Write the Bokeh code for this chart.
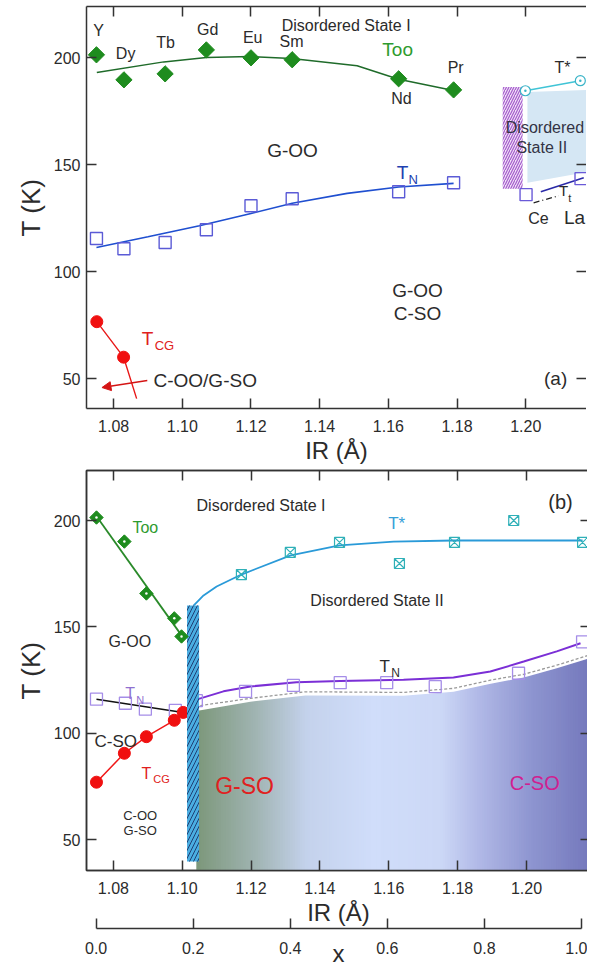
import numpy as np
from bokeh.plotting import figure
from bokeh.layouts import column
from bokeh.models import (Range1d, LinearAxis, FixedTicker, PrintfTickFormatter,
                          Arrow, NormalHead)
from bokeh.core.properties import value
from bokeh.embed import file_html
from bokeh.resources import INLINE

FONT = "Liberation Sans"
INK = "#2b2b2b"

# ---------------- panel (a): RMnO3 series vs ionic radius ----------------
elements = ["Y", "Dy", "Tb", "Gd", "Eu", "Sm", "Nd", "Pr"]
ir_a = [1.075, 1.083, 1.095, 1.107, 1.120, 1.132, 1.163, 1.179]
too_a = [201.4, 189.7, 192.5, 203.7, 200.0, 199.1, 190.2, 185.0]
tn_a = [115.5, 110.7, 113.6, 119.6, 130.8, 134.1, 137.4, 141.6]

too_fit_ir = [1.0751, 1.0946, 1.107, 1.1199, 1.1318, 1.1509, 1.163, 1.1793]
too_fit_t = [193.1, 198.1, 200.2, 200.6, 199.7, 196.3, 190.0, 184.6]
tn_fit_ir = [1.075, 1.09, 1.105, 1.12, 1.132, 1.148, 1.163, 1.179]
tn_fit_t = [111.3, 116.3, 121.5, 127.2, 132.0, 136.6, 139.6, 141.3]

tcg_a_ir = [1.0751, 1.0829]
tcg_a_t = [76.6, 60.0]
tcg_a_line_ir = [1.0751, 1.0829, 1.0867]
tcg_a_line_t = [76.6, 60.0, 40.6]

# Ce / La end members
ir_cela = [1.2001, 1.2161]
tn_cela = [136.0, 143.5]
tstar_cela_ir = [1.1999, 1.2159]
tstar_cela = [184.6, 189.3]
tt_ir = [1.2044, 1.2169]
tt_t = [137.4, 143.9]
tt_dash_ir = [1.2023, 1.2096]
tt_dash_t = [132.2, 135.5]

# ---------------- panel (b): Y(1-x)La(x) series ----------------
IR_Y, IR_LA = 1.075, 1.216          # x = 0 and x = 1 end points
too_b_ir = [1.0751, 1.0832, 1.0896, 1.0977, 1.0998]
too_b = [201.4, 190.1, 165.7, 154.0, 145.5]
too_b_line_ir = [1.0751, 1.0998]
too_b_line = [202.0, 146.0]

tcg_b_ir = [1.0751, 1.0832, 1.0896, 1.0977, 1.1003]
tcg_b = [77.0, 90.6, 98.4, 106.1, 109.8]

tn_b_ir = [1.0751, 1.0835, 1.0893, 1.098, 1.1041, 1.1184, 1.1323, 1.1459,
           1.1594, 1.1735, 1.1977, 1.2163]
tn_b = [116.0, 114.1, 111.3, 110.8, 115.3, 119.7, 122.5, 123.8, 123.8,
        121.9, 128.2, 143.0]
tn_left_ir = [1.0751, 1.0998]
tn_left = [116.0, 109.9]
tn_fit_b_ir = [1.1041, 1.112, 1.1198, 1.1332, 1.1459, 1.1643, 1.1788,
               1.1895, 1.1992, 1.2088, 1.2157]
tn_fit_b = [115.8, 119.7, 122.0, 124.0, 124.6, 125.2, 126.2, 129.0, 133.7,
            138.5, 142.3]

tstar_b_ir = [1.1172, 1.1314, 1.1457, 1.1631, 1.1791, 1.1963, 1.2163]
tstar_b = [174.6, 185.0, 189.7, 179.8, 189.7, 200.0, 189.7]
tstar_fit_ir = [1.1033, 1.1062, 1.110, 1.1172, 1.1315, 1.1457, 1.1614,
                1.1788, 1.2163]
tstar_fit = [160.0, 164.8, 169.0, 174.6, 183.6, 188.3, 190.1, 190.6, 190.6]

dash_ir = [1.1038, 1.1198, 1.1358, 1.1643, 1.1788, 1.1896, 1.1992, 1.2088,
           1.2187]
dash_t = [112.7, 116.4, 119.5, 119.2, 121.1, 125.0, 127.7, 132.0, 137.0]
so_edge_ir = [1.1041, 1.1198, 1.1358, 1.1643, 1.1788, 1.1896, 1.1992,
              1.2088, 1.2187]
so_edge_t = [110.5, 114.8, 117.8, 117.6, 119.5, 123.3, 126.2, 130.5, 135.5]

ir_ticks = [1.08, 1.10, 1.12, 1.14, 1.16, 1.18, 1.20]
t_ticks = [50, 100, 150, 200]
x_ticks = [0.0, 0.2, 0.4, 0.6, 0.8, 1.0]


def mirror_axis(ticks, line_color):
    # tick marks only, no labels
    return LinearAxis(ticker=FixedTicker(ticks=ticks), major_label_text_font_size="1px",
                      major_label_text_color=None, major_label_standoff=0,
                      major_tick_in=10, major_tick_out=0, minor_tick_line_color=None,
                      axis_line_color=line_color, axis_line_width=1.5,
                      major_tick_line_color="#333333", major_tick_line_width=1.5)


def style_axes(p, frame_line=True):
    for ax in p.xaxis + p.yaxis:
        ax.major_tick_in = 10
        ax.major_tick_out = 0
        ax.minor_tick_line_color = None
        ax.axis_line_color = "#333333"
        ax.axis_line_width = 1.5
        ax.major_tick_line_color = "#333333"
        ax.major_tick_line_width = 1.5
        ax.major_label_text_font = FONT
        ax.major_label_text_font_size = "16px"
        ax.major_label_text_color = INK
        ax.axis_label_text_font = FONT
        ax.axis_label_text_font_style = "normal"
        ax.axis_label_text_color = INK
    p.xaxis[0].ticker = FixedTicker(ticks=ir_ticks)
    p.xaxis[0].formatter = PrintfTickFormatter(format="%.2f")
    p.xaxis[0].axis_label = "IR (Å)"
    p.xaxis[0].axis_label_text_font_size = "24px"
    p.xaxis[0].major_label_standoff = 11
    p.xaxis[0].axis_label_standoff = 2
    p.yaxis[0].ticker = FixedTicker(ticks=t_ticks)
    p.yaxis[0].axis_label = "T (K)"
    p.yaxis[0].axis_label_text_font_size = "26px"
    p.yaxis[0].major_label_standoff = 6
    p.grid.visible = False
    p.add_layout(mirror_axis(ir_ticks, "#333333"), "above")
    p.add_layout(mirror_axis(t_ticks, "#333333" if frame_line else None), "right")


def put(p, x, y, s, size, color=INK, align="center"):
    p.text(x=[x], y=[y], text=[s], text_font=value(FONT), text_font_size=size,
           text_color=color, text_align=align, text_baseline="middle")


# ======================= panel (a) =======================
pa = figure(frame_width=500, frame_height=402, x_range=Range1d(1.0721, 1.2177),
            y_range=Range1d(36, 224), output_backend="svg", toolbar_location=None,
            min_border_left=86, min_border_right=0, min_border_top=6,
            min_border_bottom=0, outline_line_color=None)
style_axes(pa, frame_line=False)

# La-side inset: hatched boundary, disordered-state-II patch
pa.patch([1.2005, 1.2177, 1.2177, 1.2005], [184.0, 185.0, 146.5, 141.6],
         fill_color="#d5e7f4", line_color=None)
pa.quad(left=[1.1933], right=[1.1991], bottom=[138.8], top=[186.4],
        fill_color="#f1e2f8", line_color=None, hatch_pattern="/",
        hatch_color="#a45ccc", hatch_scale=5, hatch_weight=1.2)

pa.line(too_fit_ir, too_fit_t, line_color="#1f6b2a", line_width=1.5)
pa.scatter(ir_a, too_a, marker="square", angle=np.pi / 4, size=11.5,
           fill_color="#1e8c1e", line_color="#1e8c1e")
pa.line(tn_fit_ir, tn_fit_t, line_color="#1f4fd0", line_width=1.6)
pa.scatter(ir_a, tn_a, marker="square", size=12, fill_color=None,
           line_color="#5b5bd6", line_width=1.4)
pa.line(tcg_a_line_ir, tcg_a_line_t, line_color="#e81818", line_width=1.4)
pa.scatter(tcg_a_ir, tcg_a_t, marker="circle", size=12, fill_color="#f01010",
           line_color="#f01010")
pa.add_layout(Arrow(end=NormalHead(size=9, fill_color="#d41414", line_color="#d41414"),
                    x_start=1.0898, y_start=49.1, x_end=1.0766, y_end=45.8,
                    line_color="#d41414", line_width=1.4))

pa.line(tstar_cela_ir, tstar_cela, line_color="#40c4d6", line_width=1.6)
pa.scatter(tstar_cela_ir, tstar_cela, marker="circle_dot", size=10, fill_color="white",
           line_color="#3ab4c8", line_width=1.2)
pa.line(tt_ir, tt_t, line_color="#2a2aa8", line_width=1.6)
pa.line(tt_dash_ir, tt_dash_t, line_color="#222222", line_width=1.3, line_dash="6 3 1 3")
pa.scatter(ir_cela, tn_cela, marker="square", size=12, fill_color=None,
           line_color="#6a5ad8", line_width=1.4)

elem_pos = [(1.0756, 212.6), (1.0835, 201.9), (1.0951, 207.0), (1.1074, 213.1),
            (1.1205, 209.3), (1.1318, 207.5), (1.1638, 180.8), (1.1796, 195.3)]
for name, (ex, ey) in zip(elements, elem_pos):
    put(pa, ex, ey, name, "16px")
put(pa, 1.1477, 215.0, "Disordered State I", "16px")
put(pa, 1.1627, 203.7, "Too", "19px", color="#2e9b2e")
put(pa, 1.1321, 156.5, "G-OO", "19px")
put(pa, 1.1641, 146.3, "T", "19px", color="#2040b0")
put(pa, 1.1672, 143.0, "N", "13px", color="#2040b0")
put(pa, 1.1685, 91.1, "G-OO", "19px")
put(pa, 1.1685, 80.4, "C-SO", "19px")
put(pa, 1.0899, 68.7, "T", "19px", color="#e02020")
put(pa, 1.0948, 65.6, "CG", "13px", color="#e02020")
put(pa, 1.0916, 49.1, "C-OO/G-SO", "19px", align="left")
put(pa, 1.2087, 50.0, "(a)", "19px")
put(pa, 1.2107, 195.3, "T*", "16px")
put(pa, 1.1942, 167.3, "Disordered", "16px", color="#333344", align="left")
put(pa, 1.1973, 158.0, "State II", "16px", color="#333344", align="left")
put(pa, 1.2037, 124.8, "Ce", "16px")
put(pa, 1.2142, 125.2, "La", "19px")
put(pa, 1.2110, 137.9, "T", "15px")
put(pa, 1.2128, 134.4, "t", "11px")

# ======================= panel (b) =======================
X0, X1 = 1.0722, 1.2186
pb = figure(frame_width=504, frame_height=400, x_range=Range1d(X0, X1),
            y_range=Range1d(35.5, 223.5), output_backend="svg", toolbar_location=None,
            min_border_left=83, min_border_right=0, min_border_top=4,
            min_border_bottom=0, outline_line_color="#333333", outline_line_width=1.5)
style_axes(pb)
span = IR_LA - IR_Y
pb.extra_x_ranges = {"comp": Range1d((X0 - IR_Y) / span, (X1 - IR_Y) / span)}
xax = LinearAxis(x_range_name="comp", axis_label="x", bounds=(0, 1),
                 ticker=FixedTicker(ticks=x_ticks),
                 formatter=PrintfTickFormatter(format="%.1f"),
                 major_tick_in=10, major_tick_out=0, minor_tick_line_color=None,
                 axis_line_color="#333333", axis_line_width=1.5,
                 major_tick_line_color="#333333", major_tick_line_width=1.5,
                 major_label_text_font=FONT, major_label_text_font_size="16px",
                 major_label_text_color=INK, major_label_standoff=13,
                 axis_label_text_font=FONT, axis_label_text_font_size="24px",
                 axis_label_text_font_style="normal", axis_label_text_color=INK,
                 axis_label_standoff=-17)
pb.add_layout(xax, "below")

# spin-order region: colour ramp from G-SO to C-SO, trimmed at its upper edge
ramp_pos = [0.0, 0.15, 0.28, 0.45, 0.62, 0.72, 0.85, 1.0]
ramp_rgb = np.array([[124, 151, 122], [160, 180, 178], [196, 210, 236], [208, 221, 250],
                     [204, 216, 246], [176, 184, 230], [142, 149, 208], [116, 120, 188]])
left_edge = so_edge_ir[0]
n = 160
edges = np.linspace(left_edge, X1, n + 1)
mid = (edges[:-1] + edges[1:]) / 2
f = (mid - left_edge) / (X1 - left_edge)
cols = ["#%02x%02x%02x" % tuple(int(round(np.interp(v, ramp_pos, ramp_rgb[:, k])))
                                for k in range(3)) for v in f]
pb.quad(left=edges[:-1], right=edges[1:] + (edges[1] - edges[0]) * 0.6,
        bottom=35.5, top=138.5, fill_color=cols, line_color=None)
pb.varea(x=so_edge_ir, y1=so_edge_t, y2=139.0, fill_color="white")
pb.line(dash_ir, dash_t, line_color="#9a9a9a", line_width=1.3, line_dash="3 2")

pb.line(tn_left_ir, tn_left, line_color="#111111", line_width=1.4)
pb.line(tn_fit_b_ir, tn_fit_b, line_color="#7b2fd6", line_width=2)
pb.scatter(tn_b_ir, tn_b, marker="square", size=12, fill_color=None,
           line_color="#a58de8", line_width=1.3)
pb.line(tcg_b_ir, tcg_b, line_color="#f01818", line_width=1.5)
pb.scatter(tcg_b_ir, tcg_b, marker="circle", size=12, fill_color="#f01010",
           line_color="#f01010")
pb.line(tstar_fit_ir, tstar_fit, line_color="#2a9ad8", line_width=1.8)
pb.scatter(tstar_b_ir, tstar_b, marker="square_x", size=10, fill_color=None,
           line_color="#2fb0b8", line_width=1.2)

# structural boundary near x = 0.18
pb.quad(left=[1.1014], right=[1.1049], bottom=[39.7], top=[160.0],
        fill_color="#4aaee2", line_color=None, hatch_pattern="/",
        hatch_color="#1f3f73", hatch_scale=8, hatch_weight=1.0)

pb.line(too_b_line_ir, too_b_line, line_color="#2a8a2a", line_width=1.8)
pb.scatter(too_b_ir, too_b, marker="square", angle=np.pi / 4, size=9.5,
           fill_color="#1e8c1e", line_color="#1e8c1e")
pb.scatter(too_b_ir, too_b, marker="circle", size=2.5, fill_color="white",
           line_color=None)

put(pb, 1.1229, 207.0, "Disordered State I", "16px")
put(pb, 1.2099, 208.9, "(b)", "20px")
put(pb, 1.0893, 196.7, "Too", "16px", color="#2e9b2e")
put(pb, 1.1623, 198.6, "T*", "17px", color="#35a0d8")
put(pb, 1.1566, 162.4, "Disordered State II", "16px")
put(pb, 1.0848, 143.2, "G-OO", "16px")
put(pb, 1.0849, 118.8, "T", "16px", color="#9070d0")
put(pb, 1.0878, 115.6, "N", "11px", color="#9070d0")
put(pb, 1.1588, 131.5, "T", "17px")
put(pb, 1.1620, 128.2, "N", "12px")
put(pb, 1.0807, 96.2, "C-SO", "17px")
put(pb, 1.0896, 81.2, "T", "16px", color="#e02020")
put(pb, 1.0940, 78.6, "CG", "11px", color="#e02020")
put(pb, 1.0878, 61.5, "C-OO", "13px")
put(pb, 1.0878, 54.5, "G-SO", "13px")
put(pb, 1.1181, 75.1, "G-SO", "23px", color="#e02020")
put(pb, 1.2024, 76.5, "C-SO", "20px", color="#d02090")

layout = column(pa, pb)
open("out.html", "w").write(file_html(layout, INLINE))
